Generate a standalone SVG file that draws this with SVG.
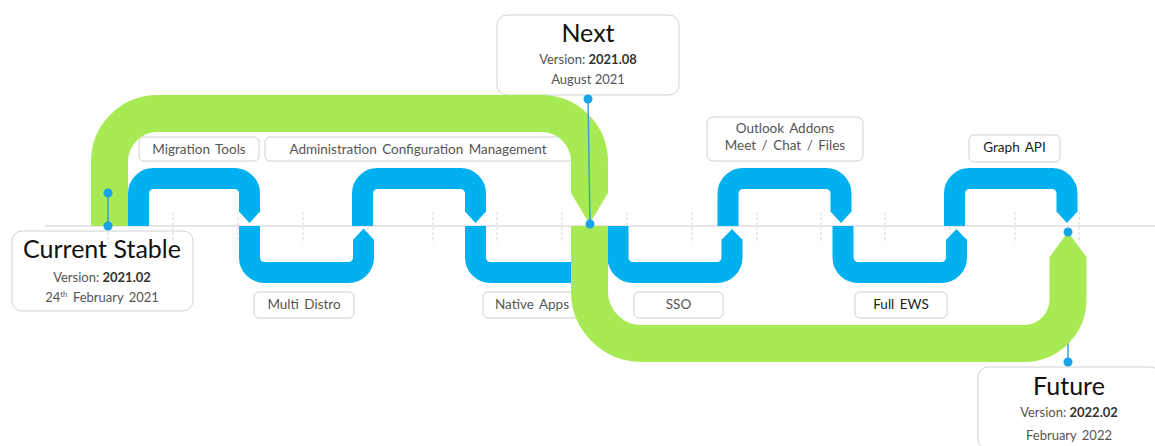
<svg xmlns="http://www.w3.org/2000/svg" width="1155" height="446" viewBox="0 0 1155 446">
<style>
text{font-family:Lato,"Open Sans","Liberation Sans",sans-serif;text-anchor:middle}
.lbl{fill:#fff;stroke:#cfcfcf;stroke-width:1}
.lt{font-size:13.5px;fill:#555;word-spacing:2px}
.dk{fill:#222}
.ms{fill:#fff;stroke:#d2d2d2;stroke-width:1}
.title{font-size:25px;fill:#111}
.sub{font-size:13px;fill:#555}
.b{font-weight:bold;fill:#333}
.tick{stroke:#d8d8d8;stroke-width:1;stroke-dasharray:3 2}
.blue{fill:none;stroke:#00b0ef;stroke-width:21}
.bluef{fill:#00b0ef}
.green{fill:none;stroke:#a8ea54;stroke-width:37}
.greenf{fill:#a8ea54}
.cl{stroke:#3a9fd2;stroke-width:1.5}
.dot{fill:#1aa3e6}
</style>
<line x1="45" y1="226" x2="1155" y2="226" stroke="#e6e6e6" stroke-width="2"/>
<g id="label-migration-tools"><rect class="lbl" x="139" y="137" width="120" height="24" rx="5"/><text class="lt" x="199" y="154">Migration Tools</text></g>
<g id="label-admin"><rect class="lbl" x="265" y="137" width="310" height="24" rx="5"/><text class="lt" x="418" y="154" word-spacing="4">Administration Configuration Management</text></g>
<g id="label-multi-distro"><rect class="lbl" x="254" y="292" width="100" height="26" rx="5"/><text class="lt" x="304" y="309">Multi Distro</text></g>
<g id="label-native-apps"><rect class="lbl" x="483" y="292" width="98" height="26" rx="5"/><text class="lt" x="532" y="309">Native Apps</text></g>
<g id="label-sso"><rect class="lbl" x="634" y="292" width="89" height="26" rx="5"/><text class="lt" x="678.5" y="309">SSO</text></g>
<g id="label-full-ews"><rect class="lbl" x="855" y="292" width="92" height="26" rx="5"/><text class="lt dk" x="901" y="309">Full EWS</text></g>
<g id="label-outlook"><rect class="lbl" x="707" y="117" width="156" height="44" rx="6"/><text class="lt" x="785" y="133">Outlook Addons</text><text class="lt" x="785" y="150">Meet / Chat / Files</text></g>
<g id="label-graph-api"><rect class="lbl" x="969" y="135" width="91" height="27" rx="5"/><text class="lt dk" x="1014.5" y="152">Graph API</text></g>
<g id="milestone-current"><rect class="ms" x="12" y="231" width="181" height="80" rx="10"/><text class="title" x="102" y="258">Current Stable</text><text class="sub" x="102" y="282">Version: <tspan class="b">2021.02</tspan></text><text class="sub" x="102" y="302">24<tspan font-size="8" dy="-5">th</tspan><tspan dy="5" word-spacing="2"> February 2021</tspan></text></g>
<g id="milestone-next"><rect class="ms" x="497" y="15" width="182" height="80" rx="10"/><text class="title" x="588" y="42">Next</text><text class="sub" x="588" y="64">Version: <tspan class="b">2021.08</tspan></text><text class="sub" x="588" y="84">August 2021</text></g>
<g id="milestone-future"><rect class="ms" x="978" y="367" width="182" height="82" rx="10"/><text class="title" x="1069" y="395">Future</text><text class="sub" x="1069" y="417">Version: <tspan class="b">2022.02</tspan></text><text class="sub" x="1069" y="440" word-spacing="2">February 2022</text></g>
<g id="ticks">
<line class="tick" x1="108" y1="212" x2="108" y2="243"/><line class="tick" x1="173" y1="212" x2="173" y2="243"/><line class="tick" x1="238" y1="212" x2="238" y2="243"/><line class="tick" x1="303" y1="212" x2="303" y2="243"/><line class="tick" x1="368" y1="212" x2="368" y2="243"/><line class="tick" x1="433" y1="212" x2="433" y2="243"/><line class="tick" x1="497" y1="212" x2="497" y2="243"/><line class="tick" x1="562" y1="212" x2="562" y2="243"/><line class="tick" x1="627" y1="212" x2="627" y2="243"/><line class="tick" x1="692" y1="212" x2="692" y2="243"/><line class="tick" x1="757" y1="212" x2="757" y2="243"/><line class="tick" x1="821" y1="212" x2="821" y2="243"/><line class="tick" x1="885" y1="212" x2="885" y2="243"/><line class="tick" x1="950" y1="212" x2="950" y2="243"/><line class="tick" x1="1015" y1="212" x2="1015" y2="243"/><line class="tick" x1="1079" y1="212" x2="1079" y2="243"/>
</g>
<g id="connectors">
<line class="cl" x1="1068" y1="232" x2="1068" y2="362"/>
</g>
<g id="blue-track">
<path class="blue" d="M138.5,226 V193.5 A15,15 0 0 1 153.5,178.5 H234.5 A15,15 0 0 1 249.5,193.5 V212"/>
<polygon class="bluef" points="239,211.5 260,211.5 249.5,223"/>
<path class="blue" d="M249.5,226 V257.5 A15,15 0 0 0 264.5,272.5 H348.5 A15,15 0 0 0 363.5,257.5 V239.5"/>
<polygon class="bluef" points="353,240 374,240 363.5,228.5"/>
<path class="blue" d="M362.5,226 V193.5 A15,15 0 0 1 377.5,178.5 H460.5 A15,15 0 0 1 475.5,193.5 V212"/>
<polygon class="bluef" points="465,211.5 486,211.5 475.5,223"/>
<path class="blue" d="M475.5,226 V257.5 A15,15 0 0 0 490.5,272.5 H575 A15,15 0 0 0 590,257.5 V239.5"/>
<path class="blue" d="M618,226 V257.5 A15,15 0 0 0 633,272.5 H717 A15,15 0 0 0 732,257.5 V239.5"/>
<polygon class="bluef" points="721.5,240 742.5,240 732,229"/>
<path class="blue" d="M728,226 V193.5 A15,15 0 0 1 743,178.5 H826 A15,15 0 0 1 841,193.5 V212"/>
<polygon class="bluef" points="830.5,211.5 851.5,211.5 841,223"/>
<path class="blue" d="M843,226 V257.5 A15,15 0 0 0 858,272.5 H941.5 A15,15 0 0 0 956.5,257.5 V239.5"/>
<polygon class="bluef" points="946,240 967,240 956.5,229"/>
<path class="blue" d="M954.5,226 V193.5 A15,15 0 0 1 969.5,178.5 H1052 A15,15 0 0 1 1067,193.5 V212"/>
<polygon class="bluef" points="1056.5,211.5 1077.5,211.5 1067,223"/>
</g>
<g id="green-track">
<path class="green" d="M109.5,226 V161.5 A48,48 0 0 1 157.5,113.5 H541.5 A48,48 0 0 1 589.5,161.5 V193.5"/>
<polygon class="greenf" points="571,193 608,193 589.5,224"/>
<path class="green" d="M589.5,226 V291.5 A52,52 0 0 0 641.5,343.5 H1024 A44,44 0 0 0 1068,299.5 V256.5"/>
<polygon class="greenf" points="1049.5,257 1086.5,257 1068,232"/>
</g>
<g id="connectors-top">
<line class="cl" x1="108" y1="193" x2="108" y2="226"/>
<line class="cl" x1="588" y1="99" x2="590" y2="224"/>
<circle class="dot" cx="108" cy="193" r="4.5"/><circle class="dot" cx="108" cy="226" r="4.5"/>
<circle class="dot" cx="588" cy="99" r="4.5"/><circle class="dot" cx="590" cy="224" r="4.5"/>
<circle class="dot" cx="1068" cy="232" r="4.5"/><circle class="dot" cx="1068" cy="362" r="4.5"/>
</g>
</svg>
